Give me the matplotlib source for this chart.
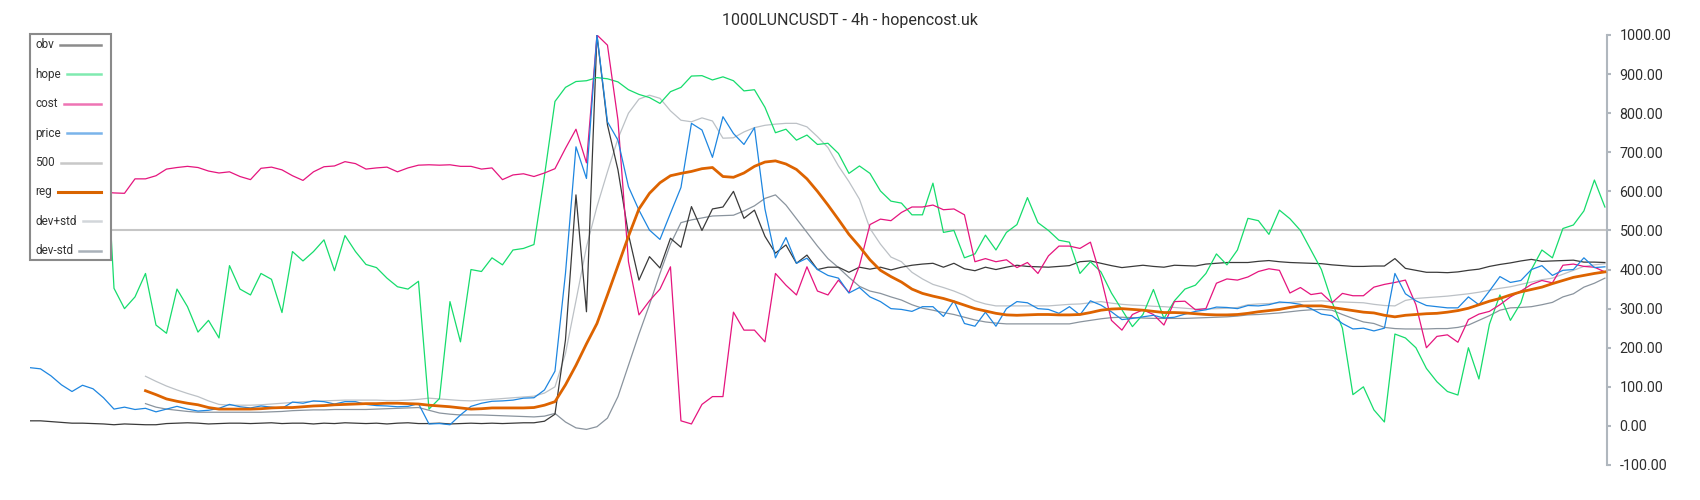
import numpy as np
import matplotlib
matplotlib.use("Agg")
import matplotlib.pyplot as plt
from matplotlib.lines import Line2D
from matplotlib.patches import Rectangle
from matplotlib.ticker import FuncFormatter

plt.rcParams['font.family'] = ['Roboto', 'DejaVu Sans']

title = '1000LUNCUSDT - 4h - hopencost.uk'
n_points = 151
band_start = 11  # reg and the dev bands start later than the rest

obv = [13, 13, 11, 9, 7, 7, 6, 5, 3, 5,
       4, 3, 3, 6, 7, 8, 7, 5, 6, 7,
       7, 6, 7, 8, 6, 7, 7, 5, 7, 6,
       8, 7, 6, 7, 5, 7, 8, 6, 6, 7,
       5, 6, 7, 6, 7, 6, 7, 8, 8, 12,
       30, 220, 591, 292, 1000, 770, 655, 490, 373, 433,
       404, 480, 457, 561, 500, 555, 560, 600, 531, 552,
       485, 442, 463, 416, 437, 400, 406, 406, 393, 406,
       401, 406, 399, 406, 411, 414, 416, 406, 416, 402,
       397, 406, 400, 406, 411, 408, 407, 406, 408, 410,
       420, 422, 416, 410, 405, 408, 411, 408, 406, 411,
       410, 409, 414, 416, 418, 418, 418, 421, 423, 420,
       418, 417, 416, 415, 412, 410, 408, 408, 409, 409,
       428, 403, 398, 393, 393, 392, 394, 398, 401, 408,
       413, 417, 422, 426, 421, 422, 423, 424, 419, 419, 418]

hope = [470, 480, 455, 490, 470, 500, 480, 850, 352, 300,
        330, 390, 258, 237, 350, 305, 240, 270, 225, 410,
        350, 335, 390, 375, 290, 446, 422, 446, 476, 397,
        487, 446, 413, 405, 378, 356, 350, 370, 43, 70,
        318, 215, 400, 395, 430, 412, 450, 454, 464, 640,
        830, 866, 881, 883, 891, 888, 880, 860, 848, 840,
        825, 855, 866, 895, 896, 885, 893, 883, 857, 860,
        815, 750, 759, 731, 744, 720, 723, 697, 646, 665,
        646, 601, 575, 570, 540, 540, 621, 495, 500, 430,
        440, 488, 450, 495, 515, 584, 520, 500, 475, 470,
        390, 420, 394, 340, 297, 254, 285, 349, 275, 320,
        350, 360, 390, 440, 412, 450, 531, 525, 490, 552,
        530, 500, 450, 400, 318, 250, 80, 100, 41, 10,
        235, 225, 200, 147, 113, 88, 79, 200, 120, 260,
        335, 270, 315, 400, 450, 430, 505, 514, 550, 629, 560]

cost = [590, 600, 605, 598, 592, 600, 603, 598, 596, 595,
        632, 632, 640, 657, 661, 664, 661, 652, 647, 650,
        638, 630, 659, 662, 655, 640, 628, 650, 663, 665,
        676, 671, 657, 660, 662, 650, 660, 667, 668, 667,
        668, 664, 664, 657, 660, 630, 642, 645, 638, 647,
        658, 710, 759, 673, 1000, 974, 782, 420, 284, 320,
        350, 407, 13, 5, 55, 75, 75, 291, 245, 245,
        215, 390, 360, 335, 407, 345, 335, 373, 341, 410,
        515, 529, 525, 546, 560, 560, 565, 553, 555, 540,
        420, 428, 420, 425, 405, 418, 390, 435, 460, 460,
        454, 470, 380, 270, 245, 285, 297, 285, 258, 318,
        319, 297, 300, 365, 376, 373, 381, 395, 402, 398,
        340, 354, 336, 340, 315, 339, 333, 333, 355, 362,
        367, 373, 310, 200, 229, 233, 214, 272, 286, 293,
        310, 330, 345, 362, 372, 366, 411, 414, 408, 406, 394]

price = [149, 146, 128, 105, 88, 104, 95, 72, 43, 48,
         42, 45, 36, 43, 50, 43, 38, 40, 45, 55,
         49, 46, 51, 48, 45, 61, 58, 64, 62, 56,
         62, 62, 55, 52, 51, 49, 50, 57, 5, 6,
         3, 28, 50, 58, 63, 64, 66, 71, 72, 92,
         140, 390, 714, 633, 1000, 778, 731, 612, 552, 501,
         477, 544, 610, 774, 757, 687, 791, 748, 720, 763,
         555, 430, 482, 416, 429, 400, 385, 378, 340, 354,
         330, 318, 300, 298, 293, 305, 305, 280, 320, 262,
         255, 291, 255, 300, 318, 315, 300, 298, 288, 305,
         284, 320, 309, 292, 272, 275, 279, 283, 276, 278,
         286, 293, 297, 304, 303, 300, 308, 307, 310, 317,
         315, 311, 300, 286, 282, 262, 248, 250, 243, 250,
         390, 338, 320, 308, 305, 302, 302, 330, 310, 345,
         382, 367, 372, 400, 410, 385, 398, 400, 430, 405, 407]

level_500 = 500

reg = [90, 80, 69, 63, 58, 54, 47, 43, 43,
       43, 43, 44, 46, 47, 47, 49, 51, 52, 54,
       55, 56, 57, 57, 58, 58, 57, 56, 53, 51,
       49, 46, 43, 44, 46, 46, 46, 46, 47, 53,
       62, 105, 155, 210, 262, 335, 410, 485, 555, 595,
       622, 640, 646, 651, 658, 661, 638, 636, 647, 664,
       675, 678, 670, 656, 632, 600, 565, 528, 490, 459,
       425, 398, 382, 368, 350, 339, 332, 326, 318, 309,
       300, 294, 288, 284, 283, 284, 285, 285, 284, 284,
       285, 290, 296, 299, 300, 298, 296, 293, 290, 290,
       289, 287, 285, 284, 284, 285, 288, 292, 295, 298,
       303, 307, 307, 307, 303, 299, 295, 291, 289, 283,
       279, 283, 285, 287, 288, 291, 295, 301, 310, 319,
       326, 335, 343, 349, 355, 364, 372, 380, 385, 390, 394]

dev_plus = [127, 114, 102, 92, 83, 75, 64, 55, 53,
            53, 53, 54, 56, 58, 60, 62, 63, 64, 65,
            66, 66, 66, 66, 65, 65, 66, 68, 71, 69,
            67, 65, 64, 66, 68, 70, 72, 74, 76, 84,
            100, 185, 320, 458, 561, 650, 735, 800, 836, 846,
            838, 806, 782, 778, 788, 780, 736, 737, 752, 763,
            769, 772, 774, 774, 765, 740, 712, 665, 625, 580,
            505, 465, 432, 420, 393, 376, 362, 354, 345, 334,
            320, 312, 307, 307, 307, 307, 307, 307, 309, 311,
            312, 315, 318, 314, 311, 309, 308, 306, 305, 303,
            301, 299, 299, 300, 301, 303, 310, 312, 313, 315,
            316, 318, 319, 320, 318, 317, 316, 315, 311, 308,
            307, 321, 326, 328, 330, 332, 335, 338, 342, 347,
            352, 356, 362, 368, 374, 378, 388, 398, 408, 412, 415]

dev_minus = [57, 48, 43, 40, 37, 35, 35, 35, 35,
             35, 35, 35, 36, 37, 39, 40, 41, 41, 42,
             42, 42, 42, 43, 44, 45, 46, 47, 40, 33,
             30, 28, 28, 28, 27, 26, 25, 24, 23, 25,
             32, 10, -5, -9, -2, 20, 75, 155, 235, 310,
             390, 465, 520, 527, 532, 537, 538, 539, 550, 563,
             582, 591, 565, 530, 495, 460, 428, 405, 380, 357,
             345, 339, 330, 322, 310, 301, 296, 290, 285, 278,
             271, 266, 263, 261, 261, 261, 261, 261, 261, 261,
             266, 270, 274, 277, 278, 277, 276, 275, 275, 275,
             275, 276, 277, 278, 279, 281, 284, 285, 287, 289,
             292, 295, 297, 298, 296, 285, 275, 266, 262, 252,
             249, 248, 248, 248, 249, 249, 252, 258, 270, 282,
             296, 302, 303, 305, 310, 316, 330, 338, 355, 365, 378]

yticks = list(range(-100, 1001, 100))

legend_labels = ['obv', 'hope', 'cost', 'price', '500', 'reg', 'dev+std', 'dev-std']
legend_colors = ['#8c8c8c', '#80eab0', '#ee74b4', '#7ab4ea', '#c8c8c8', '#d96400', '#d2d6da', '#a9b1b9']

for s in (obv, hope, cost, price):
    assert len(s) == n_points, len(s)
for s in (reg, dev_plus, dev_minus):
    assert len(s) == n_points - band_start, len(s)

W, H = 1700, 500
fig = plt.figure(figsize=(W / 100, H / 100), dpi=100)
ax = fig.add_axes([30 / W, 35 / H, 1577 / W, 430 / H])

t = np.arange(n_points)
tb = np.arange(band_start, n_points)

ax.plot(t, np.full(n_points, level_500), color='#c6c6c6', lw=1.5, zorder=1)
ax.plot(tb, dev_plus, color='#bcc1c6', lw=0.9, zorder=2)
ax.plot(tb, dev_minus, color='#8a949e', lw=0.9, zorder=2)
ax.plot(t, obv, color='#3a3a3a', lw=0.9, zorder=3)
ax.plot(t, hope, color='#16dc6c', lw=0.9, zorder=3)
ax.plot(t, cost, color='#e5157e', lw=0.9, zorder=3)
ax.plot(t, price, color='#1e86e0', lw=0.9, zorder=4)
ax.plot(tb, reg, color='#dd6300', lw=2.0, zorder=5)

ax.set_xlim(0, n_points - 1 + 0.2)
ax.set_ylim(-100, 1000)
ax.set_xticks([])
ax.yaxis.tick_right()
ax.set_yticks(yticks)
ax.yaxis.set_major_formatter(FuncFormatter(lambda v, p: f'{v:.2f}'))
ax.tick_params(axis='y', length=3, width=1.5, color='#b0b7be', pad=6,
               labelsize=10.3, labelcolor='#2e2e2e')
for side in ('top', 'bottom', 'left'):
    ax.spines[side].set_visible(False)
ax.spines['right'].set_color('#b0b7be')
ax.spines['right'].set_linewidth(1.5)
ax.patch.set_alpha(0)

fig.text(0.5, 1 - 20 / H, title, ha='center', va='center', fontsize=11.5, color='#2e2e2e')

# legend: label on the left, line sample filling up to the right edge
def fpx(x, y):
    return x / W, 1 - y / H

box = Rectangle(fpx(30, 260), 81 / W, 226 / H, transform=fig.transFigure,
                facecolor='white', edgecolor='#8a8a8a', lw=1.5, zorder=10)
fig.add_artist(box)
renderer = fig.canvas.get_renderer()
for k, (lab, col) in enumerate(zip(legend_labels, legend_colors)):
    yc = 45 + k * 29.4
    txt = fig.text(*fpx(35, yc), lab, fontsize=8.5, color='#333333',
                   ha='left', va='center', zorder=11)
    x1 = txt.get_window_extent(renderer).x1
    fig.add_artist(Line2D([(x1 + 6) / W, 101 / W], [1 - yc / H] * 2,
                          transform=fig.transFigure, color=col,
                          lw=2.2 if lab == 'reg' else 1.8, zorder=11))

fig.savefig('out.png', dpi=100)
